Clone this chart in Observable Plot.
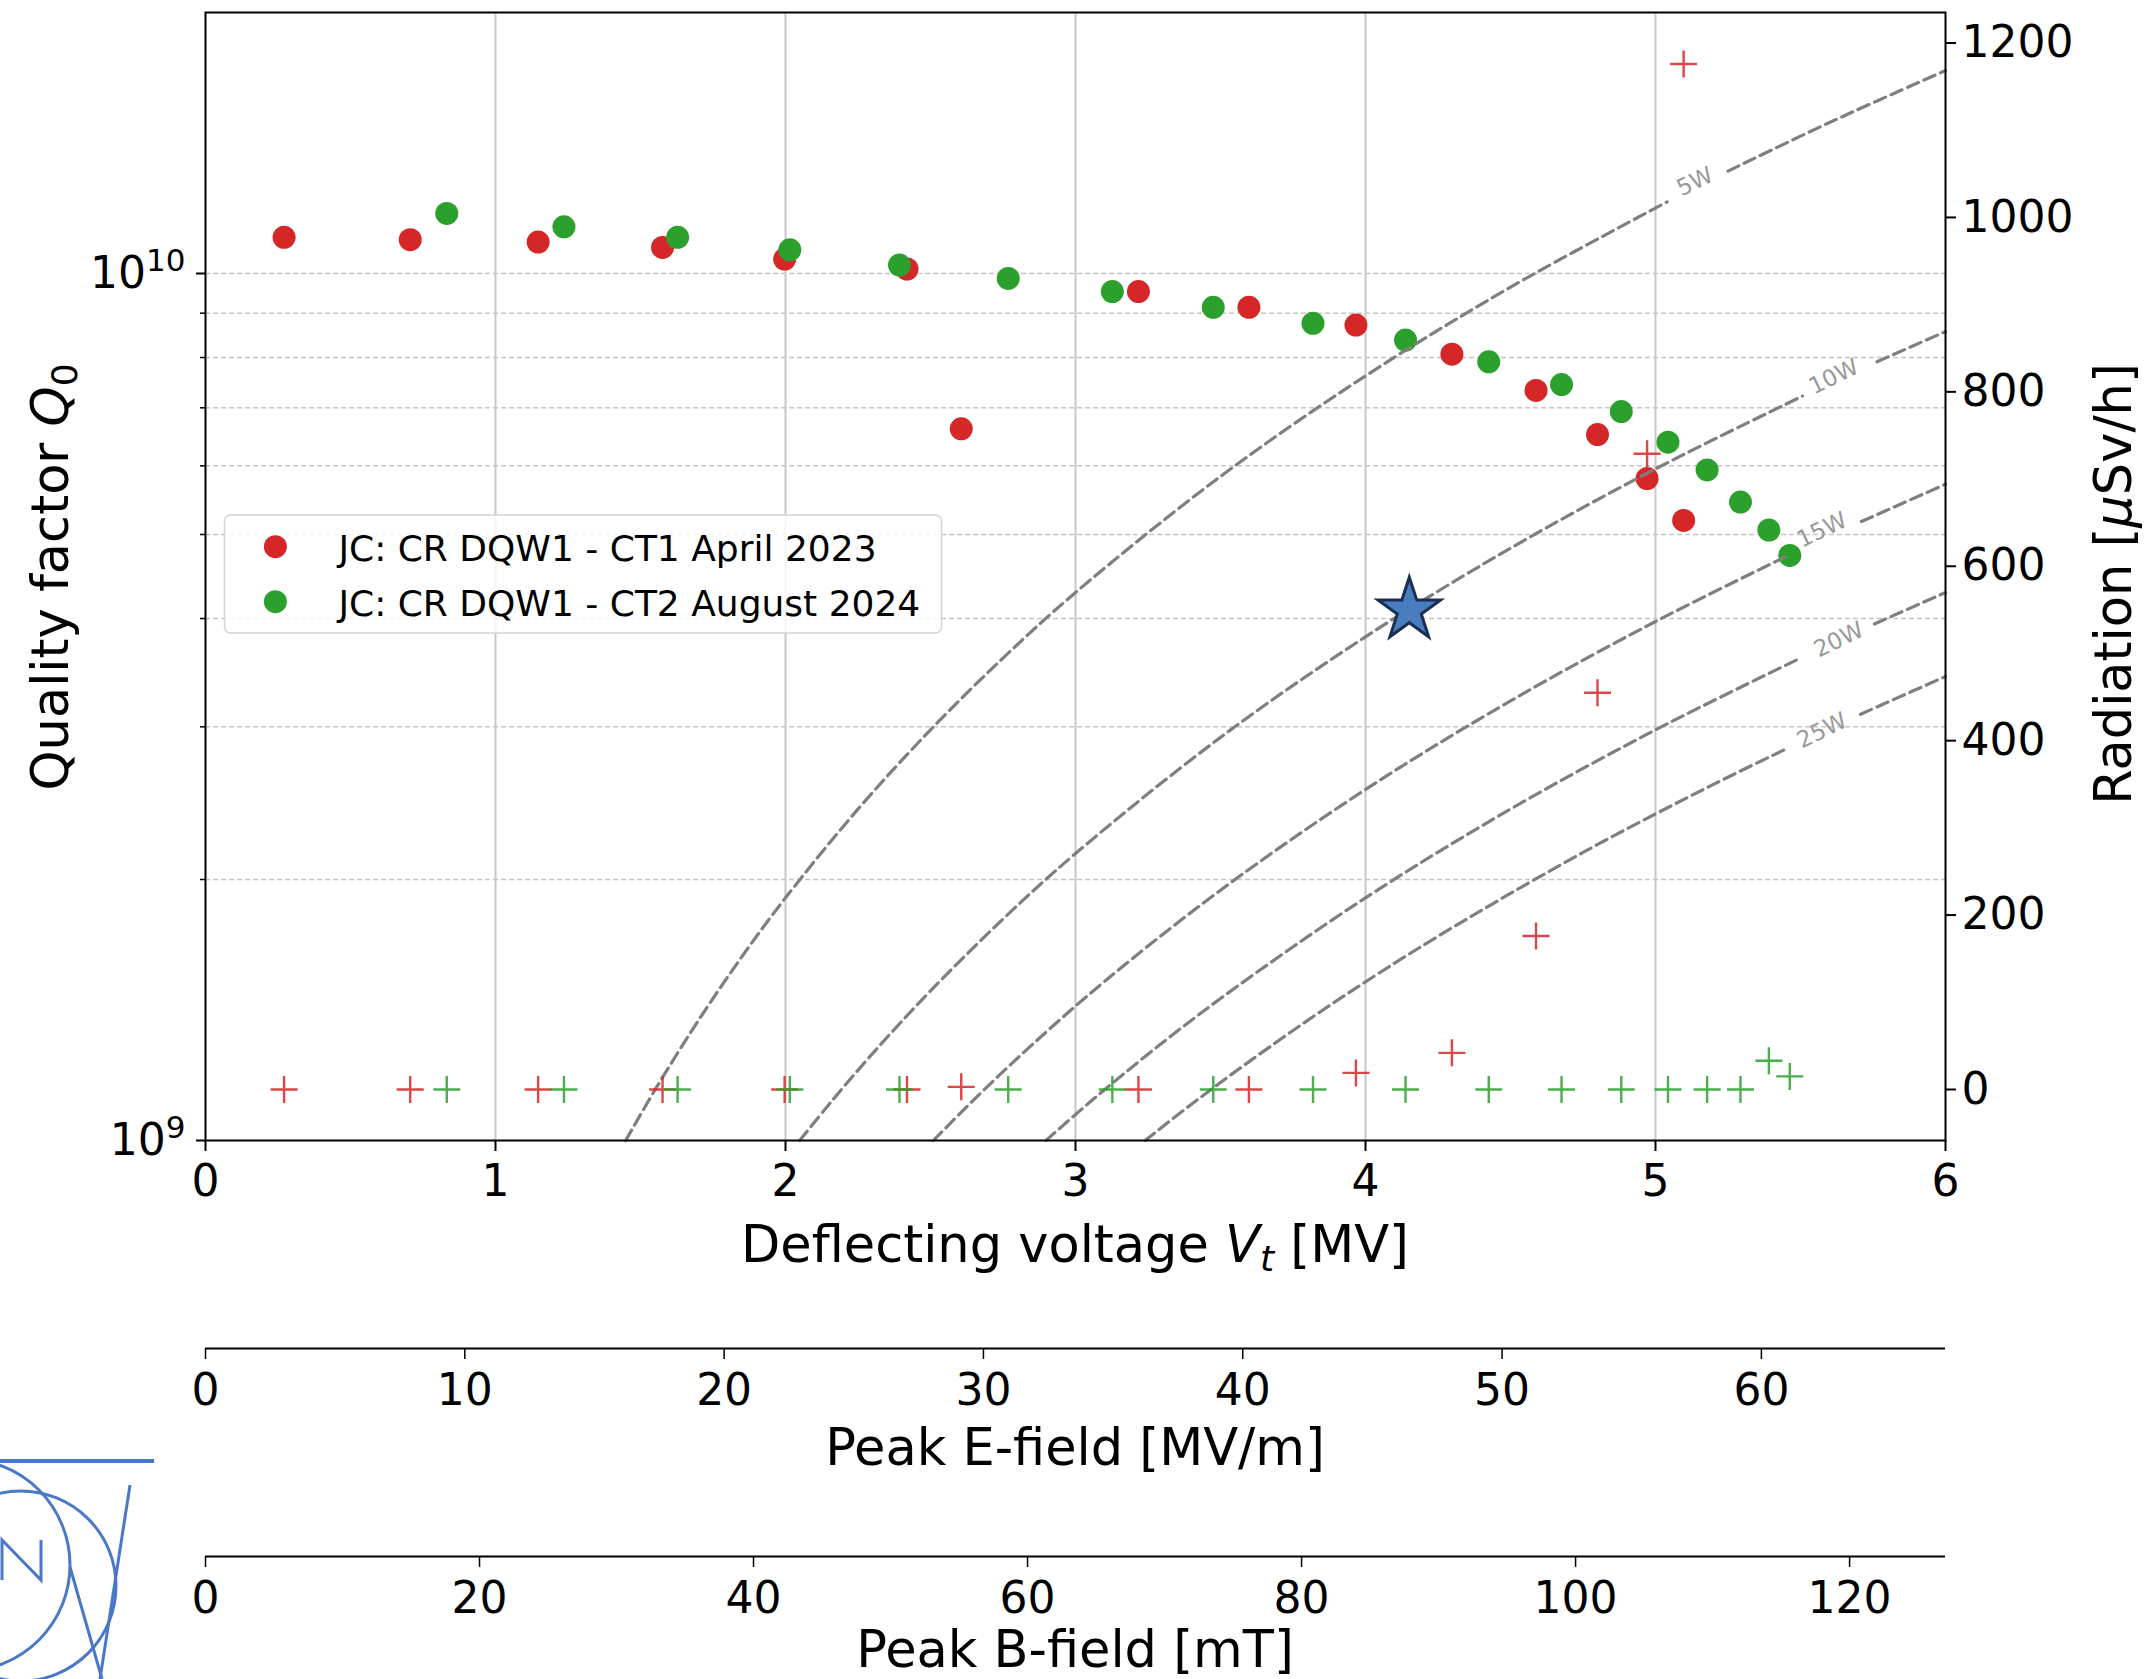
<!DOCTYPE html>
<html>
<head>
<meta charset="utf-8">
<script src="https://cdn.jsdelivr.net/npm/d3@7"></script>
<script src="https://cdn.jsdelivr.net/npm/@observablehq/plot@0.6"></script>
<style>
  body { margin: 0; background: #fff; }
  #wrap { position: relative; width: 2151px; height: 1679px; overflow: hidden; background: #fff; font-family: "DejaVu Sans", sans-serif; }
  #wrap > svg { position: absolute; left: 0; }
</style>
</head>
<body>
<div id="wrap"></div>
<script>
// ---------------- data ----------------
const xTicks = [0, 1, 2, 3, 4, 5, 6];
const qMajorTicks = [1e9, 1e10];
const qMinorTicks = [2e9, 3e9, 4e9, 5e9, 6e9, 7e9, 8e9, 9e9];
const qGridTicks = [2e9, 3e9, 4e9, 5e9, 6e9, 7e9, 8e9, 9e9, 1e10];
const radTicks = [0, 200, 400, 600, 800, 1000, 1200];
const eTicks = [0, 10, 20, 30, 40, 50, 60];
const bTicks = [0, 20, 40, 60, 80, 100, 120];

const seriesNames = ["JC: CR DQW1 - CT1 April 2023", "JC: CR DQW1 - CT2 August 2024"];

// CT1 April 2023 (red)
const ct1V   = [0.271, 0.706, 1.147, 1.576, 1.997, 2.419, 2.606, 3.217, 3.598, 3.967, 4.298, 4.588, 4.800, 4.971, 5.097];
const ct1Q   = [1.101e10, 1.094e10, 1.087e10, 1.0715e10, 1.039e10, 1.012e10, 6.62e9, 9.53e9, 9.14e9, 8.72e9, 8.07e9, 7.33e9, 6.52e9, 5.80e9, 5.19e9];
const ct1Rad = [0, 0, 0, 0, 0, 0, 3, 0, 0, 19, 42, 176, 455, 729, 1176];

// CT2 August 2024 (green)
const ct2V   = [0.832, 1.236, 1.628, 2.015, 2.393, 2.768, 3.127, 3.475, 3.819, 4.138, 4.425, 4.676, 4.882, 5.043, 5.178, 5.293, 5.391, 5.463];
const ct2Q   = [1.173e10, 1.132e10, 1.101e10, 1.065e10, 1.0225e10, 9.87e9, 9.53e9, 9.14e9, 8.76e9, 8.38e9, 7.91e9, 7.445e9, 6.93e9, 6.39e9, 5.935e9, 5.45e9, 5.06e9, 4.73e9];
const ct2Rad = [0, 0, 0, 0, 0, 0, 0, 0, 0, 0, 0, 0, 0, 0, 0, 0, 33, 15];

// star marker
const starV = [4.151];
const starQ = [4.09e9];

// constant-power dashed curves (null = label gap)
const powerLabels = ["5W", "10W", "15W", "20W", "25W"];
const curve5W = [[1.449, 1.0e9], [1.55, 1.144e9], [1.7, 1.376e9], [1.85, 1.630e9], [2.0, 1.905e9], [2.25, 2.411e9], [2.5, 2.976e9], [2.75, 3.601e9], [3.0, 4.286e9], [3.5, 5.833e9], [4.0, 7.619e9], [4.5, 9.643e9], [5.04, 1.2096e10], [5.15, null], [5.25, 1.3125e10], [5.6, 1.4933e10], [6.0, 1.7143e10]];
const curve10W = [[2.049, 1.0e9], [2.15, 1.1006e9], [2.3, 1.2595e9], [2.5, 1.488e9], [2.75, 1.8006e9], [3.0, 2.143e9], [3.5, 2.917e9], [4.0, 3.810e9], [4.5, 4.821e9], [5.0, 5.952e9], [5.507, 7.221e9], [5.6, null], [5.764, 7.911e9], [6.0, 8.571e9]];
const curve15W = [[2.51, 1.0e9], [2.65, 1.1147e9], [2.85, 1.2893e9], [3.1, 1.5254e9], [3.5, 1.944e9], [4.0, 2.540e9], [4.5, 3.214e9], [5.0, 3.968e9], [5.45, 4.715e9], [5.6, null], [5.71, 5.175e9], [6.0, 5.714e9]];
const curve20W = [[2.898, 1.0e9], [3.05, 1.1075e9], [3.25, 1.2575e9], [3.5, 1.458e9], [4.0, 1.905e9], [4.5, 2.411e9], [5.0, 2.976e9], [5.5, 3.601e9], [5.6, null], [5.755, 3.943e9], [6.0, 4.286e9]];
const curve25W = [[3.24, 1.0e9], [3.4, 1.101e9], [3.6, 1.234e9], [3.9, 1.449e9], [4.25, 1.720e9], [4.75, 2.149e9], [5.2, 2.575e9], [5.46, 2.839e9], [5.6, null], [5.707, 3.102e9], [6.0, 3.429e9]];
const labelV = [5.136, 5.615, 5.574, 5.632, 5.574];
const labelQ = [1.276e10, 7.6e9, 5.06e9, 3.78e9, 2.97e9];

// ---------------- tables ----------------
const ct1 = ct1V.map((v, i) => ({v, q: ct1Q[i], rad: ct1Rad[i]}));
const ct2 = ct2V.map((v, i) => ({v, q: ct2Q[i], rad: ct2Rad[i]}));
const star = starV.map((v, i) => ({v, q: starQ[i]}));
const curves = [curve5W, curve10W, curve15W, curve20W, curve25W]
  .flatMap((pts, k) => pts.map(([v, q]) => ({v, q, p: powerLabels[k]})));
const curveLabels = powerLabels.map((t, i) => ({t, v: labelV[i], q: labelQ[i]}));

// ---------------- layout constants ----------------
const FONT = "DejaVu Sans";
const W = 2151, ML = 205, MR = 206;
const MAIN_H = 1290, MAIN_MT = 12, MAIN_MB = 150;
const RED = "#d62728", GREEN = "#2ca02c";

const supDigits = {"0": "⁰", "1": "¹", "2": "²", "3": "³", "4": "⁴", "5": "⁵", "6": "⁶", "7": "⁷", "8": "⁸", "9": "⁹"};
const expOf = d => String(Math.round(Math.log10(d)));
const sup = d => "10" + expOf(d).split("").map(c => supDigits[c]).join("");
const plain = d => String(d);

const plusSymbol = {
  draw(ctx, size) {
    const h = Math.sqrt(size / Math.PI);
    ctx.moveTo(-h, 0); ctx.lineTo(h, 0);
    ctx.moveTo(0, -h); ctx.lineTo(0, h);
  }
};

const baseStyle = {fontFamily: FONT, fontSize: "44px", color: "#000", background: "transparent", overflow: "visible"};

// ---------------- main chart (Q0 vs Vt, log) ----------------
const main = Plot.plot({
  width: W, height: MAIN_H,
  marginLeft: ML, marginRight: MR, marginTop: MAIN_MT, marginBottom: MAIN_MB,
  style: baseStyle,
  x: {domain: [0, 6]},
  y: {type: "log", domain: [1e9, 2e10]},
  marks: [
    Plot.gridX([1, 2, 3, 4, 5], {stroke: "#c8c8c8", strokeOpacity: 1, strokeWidth: 2}),
    Plot.gridY(qGridTicks, {stroke: "#c6c6c6", strokeOpacity: 1, strokeWidth: 1.5, strokeDasharray: "5,3"}),
    Plot.dot(ct1, {x: "v", y: "q", r: 11.5, fill: RED}),
    Plot.dot(ct2, {x: "v", y: "q", r: 11.5, fill: GREEN}),
    Plot.line(curves, {x: "v", y: "q", z: "p", stroke: "#7f7f7f", strokeWidth: 3.2, strokeDasharray: "12,6", curve: "catmull-rom"}),
    Plot.text(curveLabels, {x: "v", y: "q", text: "t", rotate: -26, fill: "#999", fontSize: 23}),
    Plot.dot(star, {x: "v", y: "q", symbol: "star", r: 19.7, fill: "#4a7cc0", stroke: "#1b2f52", strokeWidth: 3}),
    Plot.axisX({ticks: xTicks, tickSize: 11, tickPadding: 13, fontSize: 44, strokeWidth: 2, label: null, tickFormat: plain}),
    Plot.axisY({ticks: qMajorTicks, tickSize: 9, tickPadding: 11, fontSize: 44, strokeWidth: 2, label: null, tickFormat: sup}),
    Plot.axisY({ticks: qMinorTicks, tickSize: 5, tickPadding: 0, strokeWidth: 1.5, label: null, tickFormat: () => ""}),
    Plot.frame({stroke: "#000", strokeWidth: 2})
  ]
});
main.style.top = "0px";

// render the power-of-ten labels with a real superscript (mathtext-like)
const supTexts = new Map(qMajorTicks.map(d => [sup(d), expOf(d)]));
d3.select(main).selectAll("text").each(function () {
  const s = this.textContent;
  if (this.childElementCount === 0 && supTexts.has(s)) {
    const e = supTexts.get(s);
    const sel = d3.select(this);
    sel.text(null);
    sel.append("tspan").text("10");
    sel.append("tspan").attr("font-size", 31).attr("dy", -17).text(e);
  }
});

// ---------------- overlay (radiation, right axis) ----------------
const over = Plot.plot({
  width: W, height: MAIN_H,
  marginLeft: ML, marginRight: MR, marginTop: MAIN_MT, marginBottom: MAIN_MB,
  style: baseStyle,
  x: {domain: [0, 6], axis: null},
  y: {domain: [-58.5, 1235]},
  marks: [
    Plot.dot(ct1, {x: "v", y: "rad", symbol: plusSymbol, r: 13.5, fill: "none", stroke: RED, strokeOpacity: 0.85, strokeWidth: 2.4}),
    Plot.dot(ct2, {x: "v", y: "rad", symbol: plusSymbol, r: 13.5, fill: "none", stroke: GREEN, strokeOpacity: 0.85, strokeWidth: 2.4}),
    Plot.axisY({anchor: "right", ticks: radTicks, tickSize: 10, tickPadding: 6, fontSize: 44, strokeWidth: 2, label: null, tickFormat: plain})
  ]
});
over.style.top = "0px";

// ---------------- secondary x axes ----------------
function fieldAxis(domain, ticks) {
  return Plot.plot({
    width: W, height: 140,
    marginLeft: ML, marginRight: MR, marginTop: 0, marginBottom: 130,
    style: baseStyle,
    x: {domain},
    y: {domain: [0, 1], axis: null},
    marks: [
      Plot.ruleY([0], {stroke: "#000", strokeWidth: 2}),
      Plot.axisX({ticks, tickSize: 11, tickPadding: 14, fontSize: 44, strokeWidth: 1.5, label: null, tickFormat: plain})
    ]
  });
}
const eAx = fieldAxis([0, 67.1], eTicks);
eAx.style.top = "1338px";
const bAx = fieldAxis([0, 127], bTicks);
bAx.style.top = "1546px";

const wrap = document.getElementById("wrap");
wrap.append(main, over, eAx, bAx);

// ---------------- titles ----------------
function title(svg, x, y, rotate) {
  const t = d3.select(svg).append("text")
    .attr("font-family", FONT).attr("font-size", 51).attr("fill", "#000")
    .attr("text-anchor", "middle");
  if (rotate) t.attr("transform", `translate(${x},${y}) rotate(-90)`);
  else t.attr("x", x).attr("y", y);
  return t;
}
const cx = (ML + (W - MR)) / 2;

let t = title(main, cx, 1261.5);
t.append("tspan").text("Deflecting voltage ");
t.append("tspan").attr("font-style", "italic").text("V");
t.append("tspan").attr("font-style", "italic").attr("font-size", 36).attr("dy", 9).text("t");
t.append("tspan").attr("dy", -9).text(" [MV]");

t = title(main, 68, 577, true);
t.append("tspan").text("Quality factor ");
t.append("tspan").attr("font-style", "italic").text("Q");
t.append("tspan").attr("font-size", 36).attr("dy", 9).text("0");

t = title(over, 2131, 584, true);
t.append("tspan").text("Radiation [");
t.append("tspan").attr("font-style", "italic").text("μ");
t.append("tspan").text("Sv/h]");

title(eAx, cx, 127).text("Peak E-field [MV/m]");
title(bAx, cx, 121).text("Peak B-field [mT]");

// ---------------- legend ----------------
const lg = d3.select(over).append("g").attr("text-anchor", "start");
lg.append("rect").attr("x", 224.5).attr("y", 515).attr("width", 717).attr("height", 118).attr("rx", 6)
  .attr("fill", "#fff").attr("fill-opacity", 0.8).attr("stroke", "#d4d4d4").attr("stroke-width", 1.5);
[[RED, 546.7, 560.7], [GREEN, 601.7, 615.5]].forEach(([c, cy, by], i) => {
  lg.append("circle").attr("cx", 275.4).attr("cy", cy).attr("r", 11.5).attr("fill", c);
  lg.append("text").attr("x", 338.4).attr("y", by).attr("text-anchor", "start")
    .attr("font-family", FONT).attr("font-size", 36).attr("fill", "#000").text(seriesNames[i]);
});

// ---------------- corner logo fragment ----------------
const logo = d3.create("svg").attr("width", 160).attr("height", 239)
  .style("position", "absolute").style("left", "0px").style("top", "1440px");
const lc = "#4a78c8";
logo.append("line").attr("x1", 0).attr("y1", 21).attr("x2", 154).attr("y2", 21).attr("stroke", lc).attr("stroke-width", 4);
logo.append("circle").attr("cx", -36).attr("cy", 125).attr("r", 106).attr("fill", "none").attr("stroke", lc).attr("stroke-width", 3);
logo.append("circle").attr("cx", 21).attr("cy", 146).attr("r", 95).attr("fill", "none").attr("stroke", lc).attr("stroke-width", 3);
logo.append("line").attr("x1", 130).attr("y1", 45).attr("x2", 100).attr("y2", 239).attr("stroke", lc).attr("stroke-width", 3);
logo.append("line").attr("x1", 70).attr("y1", 127).attr("x2", 102).attr("y2", 239).attr("stroke", lc).attr("stroke-width", 3);
logo.append("path").attr("d", "M2,140V100L41,140V100").attr("fill", "none").attr("stroke", lc).attr("stroke-width", 3);
wrap.append(logo.node());
</script>
</body>
</html>
